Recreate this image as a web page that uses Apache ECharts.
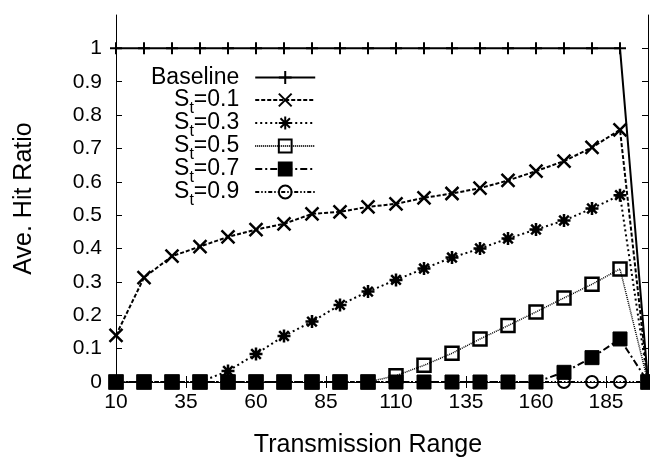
<!DOCTYPE html>
<html><head><meta charset="utf-8">
<script src="https://cdn.jsdelivr.net/npm/echarts@6/dist/echarts.min.js"></script>
<style>html,body{margin:0;padding:0;background:#fff}#c{width:650px;height:463px}</style>
</head><body><div id="c"></div>
<script>
const xValues = [10,20,30,40,50,60,70,80,90,100,110,120,130,140,150,160,170,180,190,200];
const baseline = [1,1,1,1,1,1,1,1,1,1,1,1,1,1,1,1,1,1,1,0];
const st01 = [0.14,0.313,0.377,0.406,0.435,0.457,0.474,0.504,0.51,0.525,0.534,0.552,0.565,0.581,0.604,0.632,0.662,0.703,0.756,0];
const st03 = [0,0,0,0,0.033,0.084,0.138,0.181,0.231,0.271,0.306,0.34,0.373,0.4,0.43,0.457,0.484,0.52,0.56,0];
const st05 = [0,0,0,0,0,0,0,0,0,0,0.019,0.05,0.086,0.129,0.169,0.21,0.252,0.293,0.339,0];
const st07 = [0,0,0,0,0,0,0,0,0,0,0,0,0,0,0,0,0.029,0.073,0.129,0];
const st09 = [0,0,0,0,0,0,0,0,0,0,0,0,0,0,0,0,0,0,0,0];
const xTickValues = [10,35,60,85,110,135,160,185];
const yTickValues = [0,0.1,0.2,0.3,0.4,0.5,0.6,0.7,0.8,0.9,1];
const seriesNames = ['Baseline','St=0.1','St=0.3','St=0.5','St=0.7','St=0.9'];
const xTitle = 'Transmission Range';
const yTitle = 'Ave. Hit Ratio';

const FONT = 'Liberation Sans';
const K = '#000';
const PLUS = 'path://M0,5 L10,5 M5,0 L5,10';
const CROSS = 'path://M0,0 L10,10 M10,0 L0,10';
const STAR = 'path://M0,5 L10,5 M5,0 L5,10 M1.3,1.3 L8.7,8.7 M8.7,1.3 L1.3,8.7';
const CLEAR = 'rgba(0,0,0,0)';

const styles = [
  {symbol: PLUS, size: 12, fill: CLEAR, dash: 'solid', lw: 2, bw: 2},
  {symbol: CROSS, size: 13, fill: CLEAR, dash: [4,2], lw: 2, bw: 2.5},
  {symbol: STAR, size: 13, fill: CLEAR, dash: [2,3], lw: 2, bw: 2.5},
  {symbol: 'rect', size: 13, fill: CLEAR, dash: [1,1], lw: 1.5, bw: 2.5},
  {symbol: 'rect', size: 14, fill: K, dash: [7,3,2,3], lw: 2, bw: 1},
  {symbol: 'circle', size: 12, fill: CLEAR, dash: [4,2,1.5,2,1.5,2], lw: 2, bw: 2}
];
const values = [baseline, st01, st03, st05, st07, st09];

const series = seriesNames.map((name, i) => ({
  name: name,
  type: 'line',
  xAxisIndex: 0, yAxisIndex: 0,
  data: xValues.map((x, j) => [x, values[i][j]]),
  symbol: styles[i].symbol,
  symbolSize: styles[i].size,
  showAllSymbol: true,
  clip: false,
  lineStyle: {color: K, width: styles[i].lw, type: styles[i].dash},
  itemStyle: {color: styles[i].fill, borderColor: K, borderWidth: styles[i].bw},
  emphasis: {disabled: true},
  animation: false
}));

const common = {fontFamily: FONT, color: K};
const chart = echarts.init(document.getElementById('c'), null, {renderer: 'canvas'});
chart.setOption({
  animation: false,
  backgroundColor: '#fff',
  textStyle: {fontFamily: FONT},
  grid: {left: 116, right: 2, top: 15, bottom: 70, containLabel: false},
  xAxis: [{
    type: 'value', min: 10, max: 200, position: 'bottom',
    name: xTitle, nameLocation: 'middle', nameGap: 51,
    nameTextStyle: Object.assign({fontSize: 25, padding: [0, 28, 0, 0]}, common),
    axisLine: {show: true, lineStyle: {color: K, width: 1}},
    axisTick: {show: true, inside: true, length: 6, lineStyle: {color: K}, customValues: xTickValues},
    axisLabel: Object.assign({fontSize: 21, margin: 10, customValues: xTickValues}, common),
    splitLine: {show: false}
  }, {
    type: 'value', min: 10, max: 200, position: 'top',
    axisLine: {show: true, lineStyle: {color: K, width: 1}},
    axisTick: {show: true, inside: true, length: 6, lineStyle: {color: K}, customValues: xTickValues},
    axisLabel: {show: false},
    splitLine: {show: false}
  }],
  yAxis: [{
    type: 'value', min: 0, max: 1.1, position: 'left',
    name: yTitle, nameLocation: 'middle', nameGap: 79,
    nameTextStyle: Object.assign({fontSize: 25}, common),
    axisLine: {show: true, lineStyle: {color: K, width: 1}},
    axisTick: {show: true, inside: true, length: 6, lineStyle: {color: K}, customValues: yTickValues},
    axisLabel: Object.assign({fontSize: 21, margin: 14, customValues: yTickValues,
      formatter: v => String(Math.round(v * 10) / 10)}, common),
    splitLine: {show: false}
  }, {
    type: 'value', min: 0, max: 1.1, position: 'right',
    axisLine: {show: true, lineStyle: {color: K, width: 1}},
    axisTick: {show: true, inside: true, length: 6, lineStyle: {color: K}, customValues: yTickValues},
    axisLabel: {show: false},
    splitLine: {show: false}
  }],
  legend: {
    orient: 'vertical', align: 'right',
    left: 151, top: 61, padding: 0,
    itemWidth: 60, itemHeight: 16, itemGap: -11,
    selectedMode: false,
    data: seriesNames,
    textStyle: {fontFamily: FONT, fontSize: 23, color: K, lineHeight: 33, padding: [0, 11, 0, 0],
      rich: {
        m: {fontFamily: FONT, fontSize: 23, color: K},
        s: {fontFamily: FONT, fontSize: 16, color: K, lineHeight: 16, padding: [18, 0, 0, 0]}
      }},
    formatter: name => name === 'Baseline' ? name : '{m|S}{s|t}{m|' + name.slice(2) + '}'
  },
  series: series
});
</script></body></html>
